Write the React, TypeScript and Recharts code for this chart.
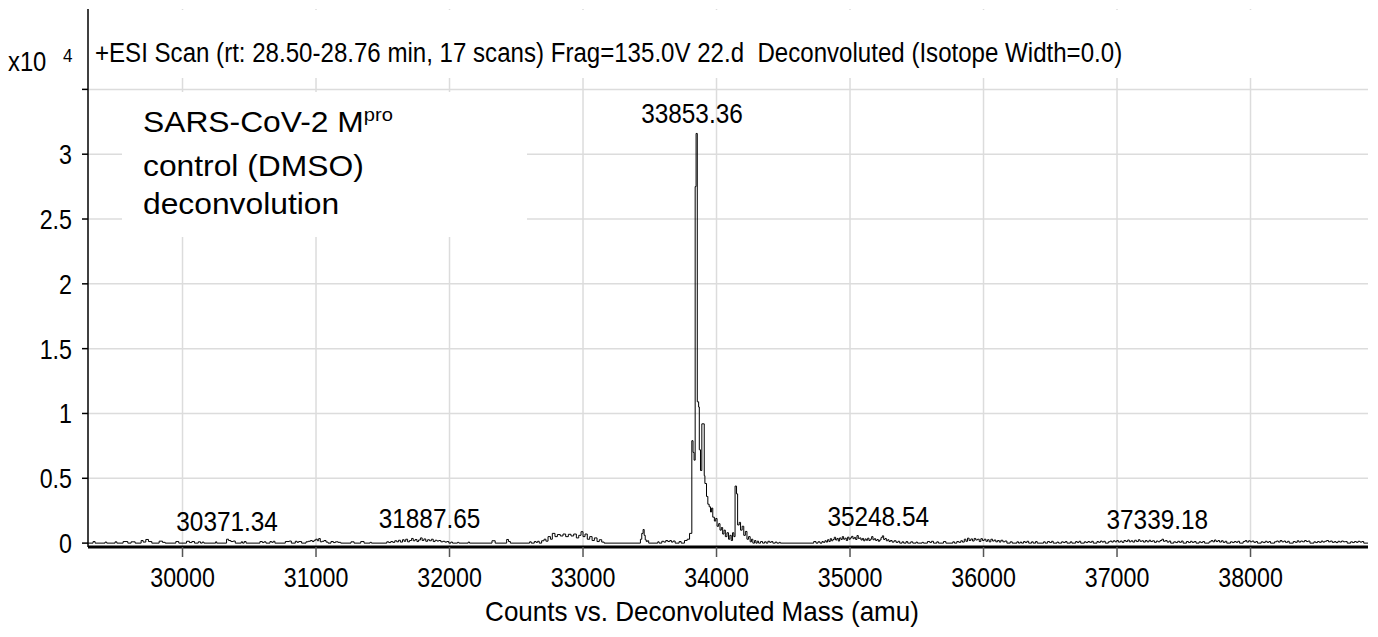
import React from 'react';
import { ComposedChart, Line, Scatter, XAxis, YAxis, CartesianGrid } from 'recharts';

// Deconvoluted spectrum, [mass (amu), counts (x10^4)], drawn as a step trace
const noiseLeft: [number, number][] = [
  [29292, 0], [29330, 0.012], [29345, 0], [29420, 0.008], [29432, 0], [29495, 0.01], [29508, 0],
  [29555, 0.012], [29590, 0], [29615, 0.01], [29645, 0], [29690, 0.02], [29705, 0.008], [29725, 0.028],
  [29745, 0.012], [29770, 0], [29825, 0.015], [29850, 0.006], [29870, 0], [29950, 0.012], [29972, 0],
  [30030, 0.014], [30052, 0.004], [30070, 0.012], [30090, 0], [30118, 0.01], [30135, 0], [30148, 0.008],
  [30160, 0], [30248, 0.01], [30256, 0], [30330, 0.03], [30345, 0.02], [30362, 0.012], [30380, 0.016],
  [30395, 0], [30440, 0.01], [30450, 0], [30462, 0.012], [30476, 0], [30580, 0.012], [30598, 0.004],
  [30610, 0.01], [30625, 0], [30655, 0.012], [30668, 0.006], [30680, 0.014], [30692, 0], [30770, 0.012],
  [30800, 0.016], [30815, 0], [30845, 0.014], [30858, 0.006], [30870, 0.012], [30892, 0], [30925, 0.01],
  [30942, 0.014], [30958, 0.02], [30972, 0.012], [30985, 0.022], [30998, 0.03], [31010, 0.018],
  [31020, 0.035], [31032, 0.01], [31046, 0.014], [31060, 0.02], [31075, 0.008], [31090, 0], [31112, 0.012],
  [31130, 0.004], [31145, 0.01], [31165, 0.006], [31185, 0], [31262, 0.01], [31285, 0], [31335, 0.012],
  [31360, 0], [31405, 0.006], [31415, 0],
];

const noiseMidLeft: [number, number][] = [
  [31530, 0.01], [31545, 0.004], [31560, 0.012], [31575, 0.006], [31590, 0.018], [31605, 0.01],
  [31618, 0.022], [31632, 0.008], [31648, 0.026], [31660, 0.014], [31672, 0.03], [31686, 0.01],
  [31700, 0.02], [31716, 0.036], [31728, 0.018], [31742, 0.028], [31756, 0.012], [31768, 0.024],
  [31782, 0.04], [31795, 0.02], [31808, 0.032], [31822, 0.014], [31836, 0.026], [31850, 0.018],
  [31864, 0.03], [31878, 0.012], [31892, 0.022], [31906, 0.016], [31920, 0.02], [31935, 0.01],
  [31950, 0.014], [31965, 0.008], [31980, 0.012], [31995, 0], [32010, 0.008], [32022, 0], [32060, 0.006],
  [32070, 0], [32140, 0.008], [32150, 0], [32318, 0.018], [32342, 0], [32428, 0.028], [32442, 0.012],
  [32456, 0], [32600, 0.01], [32612, 0], [32635, 0.012], [32648, 0.006], [32660, 0.014], [32672, 0],
  [32690, 0.018], [32708, 0.03], [32722, 0.015], [32738, 0.05], [32756, 0.03], [32770, 0.075],
  [32790, 0.05], [32808, 0.066], [32830, 0.055], [32850, 0.07], [32870, 0.05], [32890, 0.068],
  [32910, 0.055], [32930, 0.07], [32950, 0.04], [32968, 0.06], [32985, 0.088], [33000, 0.05],
  [33015, 0.07], [33032, 0.03], [33050, 0.05], [33068, 0.02], [33085, 0.04], [33105, 0.012],
  [33122, 0.026], [33140, 0.008], [33158, 0], [33430, 0.03],
  [33440, 0.075], [33450, 0.105], [33458, 0.06], [33466, 0.025], [33474, 0.012], [33482, 0.018],
  [33492, 0], [33560, 0.01], [33570, 0], [33590, 0.014], [33605, 0.008], [33620, 0.02], [33635, 0.012],
  [33650, 0.02], [33662, 0.008], [33675, 0.016], [33690, 0], [33720, 0.012], [33735, 0], [33760, 0.02],
];

const mainPeak: [number, number][] = [
  [33780, 0.03], [33798, 0.075], [33815, 0.79], [33824, 0.7], [33832, 0.64], [33840, 2.75],
  [33847, 3.16], [33856, 1.09], [33866, 1.05], [33871, 0.72], [33880, 0.56], [33890, 0.92],
  [33908, 0.52], [33913, 0.46], [33925, 0.36], [33935, 0.3], [33945, 0.28], [33955, 0.24], [33963, 0.27],
  [33972, 0.2], [33984, 0.17], [33994, 0.19], [34004, 0.13], [34016, 0.15], [34026, 0.1], [34036, 0.12],
  [34046, 0.07], [34056, 0.1], [34066, 0.05], [34078, 0.08], [34090, 0.03], [34100, 0.06], [34110, 0.02],
  [34120, 0.08], [34130, 0.05], [34139, 0.44], [34150, 0.38], [34158, 0.14], [34170, 0.16], [34180, 0.1],
  [34192, 0.13], [34204, 0.06], [34216, 0.09], [34228, 0.03], [34240, 0.05], [34252, 0.01], [34262, 0.03],
  [34272, 0], [34285, 0.02], [34295, 0], [34305, 0.015], [34315, 0],
];

const noiseMidRight: [number, number][] = [
  [34330, 0.012], [34345, 0], [34360, 0.01], [34372, 0], [34385, 0.014], [34398, 0.006], [34410, 0.012],
  [34422, 0], [34440, 0.008], [34452, 0], [34470, 0.006], [34478, 0], [34728, 0.012], [34745, 0],
  [34760, 0.01], [34775, 0], [34790, 0.012], [34800, 0.006], [34812, 0.018], [34822, 0.008],
  [34832, 0.026], [34842, 0.012], [34852, 0.034], [34862, 0.018], [34872, 0.028], [34882, 0.045],
  [34892, 0.024], [34902, 0.036], [34912, 0.016], [34922, 0.04], [34932, 0.028], [34942, 0.05],
  [34952, 0.03], [34962, 0.038], [34972, 0.02], [34982, 0.046], [34992, 0.03], [35002, 0.04],
  [35012, 0.052], [35022, 0.034], [35032, 0.044], [35042, 0.028], [35052, 0.058], [35062, 0.036],
  [35072, 0.04], [35082, 0.024], [35092, 0.036], [35102, 0.018], [35112, 0.032], [35122, 0.022],
  [35132, 0.038], [35142, 0.02], [35152, 0.03], [35162, 0.05], [35172, 0.026], [35182, 0.034],
  [35192, 0.02], [35202, 0.028], [35212, 0.014], [35222, 0.024], [35232, 0.042], [35242, 0.056],
  [35252, 0.028], [35262, 0.036], [35272, 0.018], [35282, 0.026], [35292, 0.012], [35302, 0.02],
  [35315, 0.008], [35330, 0.018], [35345, 0.006], [35360, 0.014], [35372, 0], [35390, 0.01], [35402, 0],
  [35420, 0.012], [35432, 0], [35455, 0.01], [35470, 0], [35495, 0.008], [35505, 0], [35540, 0.006],
  [35550, 0], [35580, 0.012], [35598, 0.004], [35610, 0.014], [35625, 0], [35650, 0.01], [35662, 0],
  [35700, 0.012], [35718, 0], [35770, 0.01], [35782, 0], [35800, 0.012], [35815, 0.006], [35830, 0.018],
  [35842, 0.008], [35856, 0.03], [35868, 0.014], [35880, 0.038], [35892, 0.02], [35905, 0.032],
  [35918, 0.016], [35930, 0.036], [35942, 0.024], [35955, 0.03], [35968, 0.012], [35980, 0.034],
  [35992, 0.02], [36005, 0.03], [36018, 0.014], [36030, 0.026], [36042, 0.01], [36055, 0.03],
  [36068, 0.016], [36080, 0.024], [36092, 0.01], [36105, 0.02], [36118, 0.008], [36130, 0.022],
  [36145, 0.01], [36160, 0.016], [36175, 0], [36200, 0.01], [36215, 0], [36250, 0.01], [36262, 0],
  [36275, 0.008], [36285, 0], [36300, 0.012], [36312, 0.004], [36325, 0.014], [36338, 0], [36360, 0.01],
  [36372, 0], [36390, 0.012], [36402, 0], [36450, 0.01], [36462, 0], [36480, 0.012], [36495, 0.004],
  [36510, 0.014], [36522, 0],
];

const noiseRight: [number, number][] = [
  [36550, 0.008], [36562, 0], [36585, 0.01], [36598, 0.004], [36612, 0.012], [36625, 0], [36650, 0.01],
  [36662, 0], [36690, 0.012], [36702, 0.004], [36715, 0.014], [36728, 0], [36755, 0.01], [36768, 0.004],
  [36782, 0.012], [36795, 0.006], [36810, 0.014], [36822, 0], [36850, 0.012], [36862, 0.006],
  [36876, 0.016], [36888, 0.008], [36900, 0.014], [36912, 0], [36935, 0.01], [36948, 0.016],
  [36960, 0.008], [36972, 0.018], [36985, 0.01], [36998, 0.02], [37010, 0.008], [37025, 0.016],
  [37038, 0.006], [37052, 0.02], [37066, 0.012], [37080, 0.024], [37092, 0.01], [37105, 0.018],
  [37118, 0.008], [37132, 0.022], [37145, 0.012], [37160, 0.026], [37172, 0.014], [37186, 0.018],
  [37198, 0.008], [37212, 0.02], [37225, 0.01], [37240, 0.022], [37252, 0.012], [37266, 0.018],
  [37280, 0.006], [37295, 0.016], [37308, 0.01], [37322, 0.02], [37336, 0.03], [37348, 0.014],
  [37362, 0.02], [37375, 0.008], [37390, 0.016], [37402, 0], [37425, 0.01], [37440, 0.004],
  [37455, 0.014], [37468, 0.006], [37482, 0.016], [37495, 0], [37520, 0.012], [37535, 0.004],
  [37550, 0.014], [37562, 0.006], [37578, 0.012], [37592, 0], [37615, 0.01], [37628, 0.004],
  [37642, 0.012], [37656, 0], [37690, 0.01], [37705, 0.02], [37718, 0.01], [37730, 0.024], [37742, 0.012],
  [37756, 0.02], [37768, 0.008], [37782, 0.018], [37795, 0.006], [37810, 0.014], [37822, 0], [37850, 0.01],
  [37864, 0.004], [37878, 0.012], [37892, 0.006], [37905, 0.014], [37918, 0], [37945, 0.012],
  [37960, 0.02], [37972, 0.008], [37986, 0.018], [37998, 0.01], [38012, 0.016], [38025, 0.006],
  [38040, 0.012], [38052, 0], [38080, 0.01], [38095, 0.004], [38110, 0.014], [38124, 0.006],
  [38138, 0.012], [38150, 0], [38180, 0.01], [38195, 0.016], [38208, 0.008], [38222, 0.02], [38235, 0.01],
  [38250, 0.016], [38262, 0.006], [38278, 0.014], [38290, 0], [38320, 0.012], [38335, 0.006],
  [38350, 0.018], [38362, 0.008], [38376, 0.016], [38390, 0.01], [38405, 0.02], [38418, 0.012],
  [38432, 0.016], [38445, 0], [38475, 0.01], [38488, 0.004], [38502, 0.012], [38515, 0.006],
  [38530, 0.016], [38542, 0.008], [38556, 0.014], [38570, 0.02], [38584, 0.01], [38598, 0.016],
  [38612, 0.006], [38628, 0.012], [38640, 0.004], [38655, 0.014], [38668, 0.008], [38682, 0.016],
  [38696, 0.01], [38710, 0.012], [38724, 0], [38750, 0.01], [38764, 0.004], [38778, 0.012],
  [38792, 0.006], [38806, 0.014], [38820, 0.008], [38835, 0.012], [38848, 0], [38880, 0],
];

// Annotated peaks
const peakMasses = [30371.34, 31887.65, 33853.36, 35248.54, 37339.18];
const peakHeights = [0.02, 0.04, 3.16, 0.056, 0.03];
const peakLabels = ['30371.34', '31887.65', '33853.36', '35248.54', '37339.18'];

// Axes
const xDomain: [number, number] = [29292, 38880];
const yDomain: [number, number] = [-0.03, 4.12];
const xTicks = [30000, 31000, 32000, 33000, 34000, 35000, 36000, 37000, 38000];
const yTicks = [0, 0.5, 1, 1.5, 2, 2.5, 3, 3.5];
const yTickLabels = ['0', '0.5', '1', '1.5', '2', '2.5', '3', ''];

const headerText = '+ESI Scan (rt: 28.50-28.76 min, 17 scans) Frag=135.0V 22.d  Deconvoluted (Isotope Width=0.0)';
const xAxisTitle = 'Counts vs. Deconvoluted Mass (amu)';
const sampleLines = ['control (DMSO)', 'deconvolution'];

const spectrum = [...noiseLeft, ...noiseMidLeft, ...mainPeak, ...noiseMidRight, ...noiseRight].map(
  ([mass, counts]) => ({ mass, counts })
);
const peaks = peakMasses.map((mass, i) => ({ mass, counts: peakHeights[i], label: peakLabels[i] }));

const FONT = "'Liberation Sans', Arial, Helvetica, sans-serif";
const NARROW_X = 0.83; // horizontal squeeze to imitate the condensed face

const PeakLabel = (props: any) => {
  const { cx, cy, payload } = props;
  if (cx == null || cy == null) return null;
  return (
    <g transform={`translate(${cx - 5},${cy - 10}) scale(0.87,1)`}>
      <text x={0} y={0} textAnchor="middle" fontFamily={FONT} fontSize={28} fill="#000">
        {payload.label}
      </text>
    </g>
  );
};

const XTick = (props: any) => {
  const { x, y, payload } = props;
  return (
    <g transform={`translate(${x},${y}) scale(${NARROW_X},1)`}>
      <text x={0} y={0} dy="0.71em" textAnchor="middle" fontFamily={FONT} fontSize={28} fill="#000">
        {payload.value}
      </text>
    </g>
  );
};

const YTick = (props: any) => {
  const { x, y, payload } = props;
  const label = yTickLabels[yTicks.indexOf(payload.value)] ?? '';
  return (
    <g transform={`translate(${x},${y}) scale(${NARROW_X},1)`}>
      <text x={0} y={0} dy="0.355em" textAnchor="end" fontFamily={FONT} fontSize={28} fill="#000">
        {label}
      </text>
    </g>
  );
};

export default function App() {
  return (
    <div style={{ position: 'absolute', left: 0, top: 0, width: 1378, height: 637, background: '#fff' }}>
      <ComposedChart width={1378} height={637} margin={{ top: 9, right: 10, bottom: 0, left: 0 }}>
        <CartesianGrid stroke="#dcdcdc" strokeWidth={1.5} horizontalValues={yTicks.slice(1)} verticalValues={xTicks} />
        <XAxis
          dataKey="mass"
          type="number"
          domain={xDomain}
          ticks={xTicks}
          allowDataOverflow
          height={90}
          tickSize={10}
          tickMargin={10}
          tickLine={{ stroke: '#555', strokeWidth: 1.5 }}
          axisLine={{ stroke: '#000', strokeWidth: 3 }}
          tick={<XTick />}
        />
        <XAxis
          xAxisId="top"
          orientation="top"
          dataKey="mass"
          type="number"
          domain={xDomain}
          allowDataOverflow
          height={0}
          tick={false}
          tickLine={false}
          axisLine={{ stroke: '#000', strokeWidth: 1.5 }}
        />
        <YAxis
          type="number"
          domain={yDomain}
          ticks={yTicks}
          allowDataOverflow
          width={88}
          tickSize={6}
          tickMargin={10}
          interval={0}
          tickLine={{ stroke: '#000', strokeWidth: 1.5 }}
          axisLine={{ stroke: '#000', strokeWidth: 1.5 }}
          tick={<YTick />}
        />
        <YAxis
          yAxisId="right"
          orientation="right"
          domain={[0, 1]}
          width={0}
          tick={false}
          tickLine={false}
          axisLine={{ stroke: '#000', strokeWidth: 1.5 }}
        />
        <Line
          data={spectrum}
          dataKey="counts"
          type="stepAfter"
          stroke="#000"
          strokeWidth={1}
          dot={false}
          activeDot={false}
          isAnimationActive={false}
        />
        <Scatter data={peaks} dataKey="counts" shape={PeakLabel} isAnimationActive={false} />

        {/* header */}
        <rect x={89} y={10} width={1278} height={68} fill="#fff" />
        <g transform="translate(95,62) scale(0.86,1)">
          <text x={0} y={0} fontFamily={FONT} fontSize={28} fill="#000" style={{ whiteSpace: 'pre' }}>
            {headerText}
          </text>
        </g>
        {/* exponent */}
        <g transform="translate(8,71) scale(0.85,1)">
          <text x={0} y={0} fontFamily={FONT} fontSize={28} fill="#000">x10</text>
        </g>
        <g transform="translate(63,62) scale(0.9,1)">
          <text x={0} y={0} fontFamily={FONT} fontSize={19} fill="#000">4</text>
        </g>
        {/* sample annotation */}
        <rect x={122} y={92} width={405} height={145} fill="#fff" />
        <g transform="translate(143,0) scale(1.06,1)">
          <text x={0} y={132} fontFamily={FONT} fontSize={30} fill="#000">
            SARS-CoV-2 M
            <tspan fontSize={19} dy={-11}>pro</tspan>
          </text>
          <text x={0} y={176} fontFamily={FONT} fontSize={30} fill="#000">{sampleLines[0]}</text>
          <text x={0} y={214} fontFamily={FONT} fontSize={30} fill="#000">{sampleLines[1]}</text>
        </g>
        {/* x axis title */}
        <g transform="translate(702,621) scale(0.93,1)">
          <text x={0} y={0} textAnchor="middle" fontFamily={FONT} fontSize={28} fill="#000">
            {xAxisTitle}
          </text>
        </g>
      </ComposedChart>
    </div>
  );
}
